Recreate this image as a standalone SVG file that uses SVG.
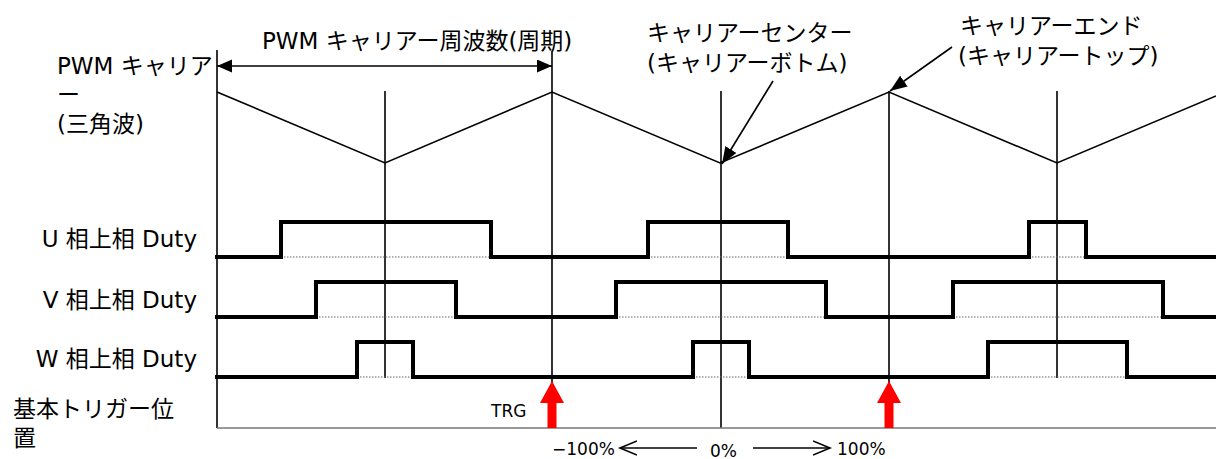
<svg xmlns="http://www.w3.org/2000/svg" width="1216" height="459" viewBox="0 0 1216 459">
<style>
text{font-family:"DejaVu Sans","Noto Sans CJK JP",sans-serif;font-size:23px;fill:#000}
.sm{font-size:17px}
.wave{fill:none;stroke:#000;stroke-width:4;stroke-linejoin:miter;stroke-linecap:square}
.dot{fill:none;stroke:#666;stroke-width:1;stroke-dasharray:1.5,1.5}
.thin{fill:none;stroke:#000;stroke-width:1.6}
.axis{fill:none;stroke:#777;stroke-width:1.6}
.trg{fill:#ff0000;stroke:none}
</style>
<defs>
<marker id="ah" markerUnits="userSpaceOnUse" markerWidth="16" markerHeight="14" refX="15" refY="6.5" orient="auto-start-reverse"><path d="M0,0 L15,6.5 L0,13 z" fill="#000"/></marker>
<marker id="ah2" markerUnits="userSpaceOnUse" markerWidth="18" markerHeight="14" refX="17" refY="6.5" orient="auto"><path d="M0,0 L17,6.5 L0,13 z" fill="#000"/></marker>
<marker id="oa" markerUnits="userSpaceOnUse" markerWidth="20" markerHeight="18" refX="17" refY="8" orient="auto"><path d="M0,1 L17,8 L0,15" fill="none" stroke="#000" stroke-width="1.6"/></marker>
</defs>

<g id="carrier">
<path class="thin" d="M217,92 L385,163 L552,92 L720,163 L889,92 L1057,163 L1216,96"/>
</g>

<g id="gridlines">
<line class="thin" x1="217" y1="50" x2="217" y2="428"/>
<line class="thin" x1="385" y1="91" x2="385" y2="378"/>
<line class="thin" x1="552" y1="51" x2="552" y2="428"/>
<line class="thin" x1="721" y1="91" x2="721" y2="428"/>
<line class="thin" x1="889" y1="91" x2="889" y2="428"/>
<line class="thin" x1="1057" y1="91" x2="1057" y2="378"/>
<line class="axis" x1="217" y1="428" x2="1216" y2="428"/>
</g>

<g id="u-phase">
<path class="dot" d="M281,257 H491 M648,257 H788 M1029,257 H1086"/>
<path class="wave" d="M217,257 H281 V222 H491 V257 H648 V222 H788 V257 H1029 V222 H1086 V257 H1218"/>
</g>
<g id="v-phase">
<path class="dot" d="M316,317 H456 M616,317 H826 M953,317 H1163"/>
<path class="wave" d="M217,317 H316 V282 H456 V317 H616 V282 H826 V317 H953 V282 H1163 V317 H1218"/>
</g>
<g id="w-phase">
<path class="dot" d="M357,377 H413 M693,377 H749 M988,377 H1127"/>
<path class="wave" d="M217,377 H357 V342 H413 V377 H693 V342 H749 V377 H988 V342 H1127 V377 H1218"/>
</g>

<g id="trg1"><path class="trg" d="M552,381 L564,403 L556.5,403 L556.5,428 L547.5,428 L547.5,403 L540,403 z"/></g>
<g id="trg2"><path class="trg" d="M889,381 L901,403 L893.5,403 L893.5,428 L884.5,428 L884.5,403 L877,403 z"/></g>

<g id="connectors">
<line class="thin" x1="217" y1="66" x2="552" y2="66" marker-start="url(#ah)" marker-end="url(#ah)"/>
<line class="thin" x1="773" y1="81" x2="722" y2="164" marker-end="url(#ah2)"/>
<line class="thin" x1="952" y1="47" x2="890" y2="91" marker-end="url(#ah2)"/>
<line class="thin" x1="697" y1="448" x2="620" y2="448" marker-end="url(#oa)"/>
<line class="thin" x1="753" y1="448" x2="830" y2="448" marker-end="url(#oa)"/>
</g>

<g id="labels">
<text x="262" y="49">PWM キャリアー周波数(周期)</text>
<text x="57" y="74">PWM キャリア</text>
<text x="57" y="103">ー</text>
<text x="57" y="132">(三角波)</text>
<text x="647" y="41">キャリアーセンター</text>
<text x="647" y="71">(キャリアーボトム)</text>
<text x="960" y="34">キャリアーエンド</text>
<text x="958" y="64">(キャリアートップ)</text>
<text x="197" y="247" text-anchor="end">U 相上相 Duty</text>
<text x="197" y="308" text-anchor="end">V 相上相 Duty</text>
<text x="197" y="367" text-anchor="end">W 相上相 Duty</text>
<text x="13" y="417">基本トリガー位</text>
<text x="13" y="446">置</text>
<text class="sm" x="491" y="417">TRG</text>
<text class="sm" x="552" y="455">−100%</text>
<text class="sm" x="710" y="457">0%</text>
<text class="sm" x="837" y="455">100%</text>
</g>
</svg>
